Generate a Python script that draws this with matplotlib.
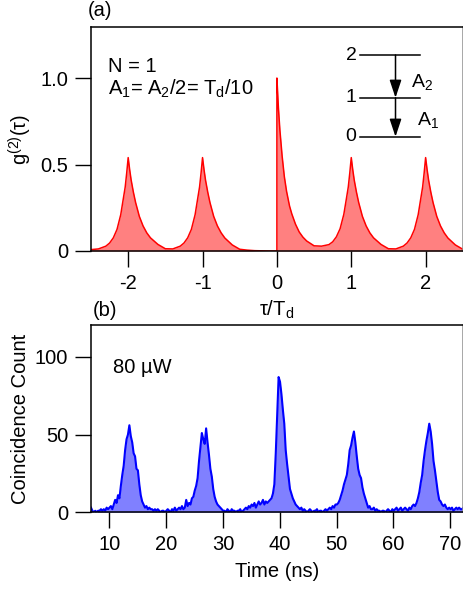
import matplotlib
matplotlib.use('Agg')
import matplotlib.pyplot as plt
import numpy as np

plt.rcParams['font.family'] = ['Liberation Sans', 'DejaVu Sans']
plt.rcParams['mathtext.fontset'] = 'custom'
plt.rcParams['mathtext.rm'] = 'Liberation Sans'
plt.rcParams['mathtext.it'] = 'Liberation Sans:italic'
plt.rcParams['mathtext.bf'] = 'Liberation Sans:bold'

# ---------------- data: panel (a) theoretical g2 ----------------
tau = [-2.5, -2.4, -2.3, -2.25, -2.2, -2.15, -2.1, -2.07, -2.04, -2.02, -2.0, -1.98, -1.96, -1.93, -1.9, -1.85, -1.8, -1.75, -1.7, -1.6, -1.5,
       -1.4, -1.3, -1.25, -1.2, -1.15, -1.1, -1.07, -1.04, -1.02, -1.0, -0.98, -0.96, -0.93, -0.9, -0.85, -0.8, -0.75, -0.7, -0.6, -0.5, -0.4, -0.3, -0.2, -0.1, 0.0,
       0.0, 0.02, 0.04, 0.07, 0.1, 0.13, 0.17, 0.2, 0.25, 0.3, 0.35, 0.4, 0.5,
       0.6, 0.7, 0.75, 0.8, 0.85, 0.9, 0.93, 0.96, 0.98, 1.0, 1.02, 1.04, 1.07, 1.1, 1.15, 1.2, 1.25, 1.3, 1.4, 1.5,
       1.6, 1.7, 1.75, 1.8, 1.85, 1.9, 1.93, 1.96, 1.98, 2.0, 2.02, 2.04, 2.07, 2.1, 2.15, 2.2, 2.25, 2.3, 2.4, 2.5]
g2 = [0.008, 0.012, 0.028, 0.046, 0.076, 0.125, 0.21, 0.29, 0.37, 0.45, 0.54, 0.47, 0.41, 0.34, 0.28, 0.20, 0.145, 0.105, 0.076, 0.038, 0.013,
      0.012, 0.028, 0.046, 0.076, 0.125, 0.21, 0.29, 0.37, 0.45, 0.54, 0.47, 0.41, 0.34, 0.28, 0.20, 0.145, 0.105, 0.075, 0.035, 0.01, 0.005, 0.002, 0.001, 0.0, 0.0,
      1.0, 0.83, 0.70, 0.55, 0.43, 0.345, 0.26, 0.215, 0.155, 0.11, 0.08, 0.058, 0.03,
      0.028, 0.037, 0.053, 0.082, 0.129, 0.212, 0.29, 0.37, 0.45, 0.54, 0.47, 0.41, 0.34, 0.28, 0.20, 0.145, 0.105, 0.076, 0.038, 0.013,
      0.012, 0.028, 0.046, 0.076, 0.125, 0.21, 0.29, 0.37, 0.45, 0.54, 0.47, 0.41, 0.34, 0.28, 0.20, 0.145, 0.105, 0.075, 0.035, 0.01]
xticks_a = [-2, -1, 0, 1, 2]
xticklabels_a = ['-2', '-1', '0', '1', '2']
yticks_a = [0, 0.5, 1.0]
yticklabels_a = ['0', '0.5', '1.0']

# ---------------- data: panel (b) measured histogram ----------------
time_start = 6.8
bin_width = 0.25
counts = [3, 1, 0, 1, 0, 1, 1, 2, 1, 2, 1, 3, 2,
          3, 4, 2, 5, 8, 6, 11, 9, 17, 24, 30, 40, 47, 50, 56, 49, 45, 38, 36, 28, 27, 18, 11, 7, 5, 3, 4, 2, 3, 2,
          2, 1, 2, 1, 2, 1, 0, 1, 1, 0, 1, 2, 1, 0, 2, 1, 3, 1, 2, 3, 2, 4, 2, 3,
          8, 4, 6, 5, 9, 10, 14, 17, 22, 33, 42, 51, 47, 44, 54, 45, 37, 28, 23, 15, 10, 7, 5, 4, 3,
          2, 1, 1, 0, 2, 1, 0, 2, 1, 1, 0, 1, 1, 2, 0, 1, 2, 3, 2, 4, 3, 5, 4, 6, 3, 5, 7, 5, 6, 8, 5, 7, 6, 7, 8,
          9, 12, 18, 38, 62, 87, 84, 76, 66, 57, 40, 31, 23, 15, 12, 9, 7, 5, 4, 3, 2,
          3, 1, 2, 1, 0, 1, 2, 1, 0, 1, 1, 2, 0, 1, 1, 0, 1, 2, 1, 2, 3, 2, 4, 3, 5,
          5, 6, 8, 11, 14, 18, 21, 24, 31, 40, 43, 48, 52, 45, 36, 28, 24, 22, 16, 12, 9, 6, 3, 4, 2,
          2, 3, 1, 2, 1, 1, 0, 1, 1, 0, 1, 2, 1, 0, 2, 1, 2, 3, 1, 2, 3, 1, 2, 3, 2, 1, 3, 2, 4, 5,
          4, 6, 9, 13, 19, 24, 33, 40, 46, 51, 57, 52, 44, 33, 27, 20, 13, 8, 7, 5, 4, 5, 3, 2, 3,
          2, 3, 1, 2, 3, 2, 3, 2, 2, 3]
time_ns = np.round(time_start + bin_width * np.arange(len(counts)), 3)
xticks_b = [10, 20, 30, 40, 50, 60, 70]
yticks_b = [0, 50, 100]

# ---------------- figure ----------------
W, H = 464, 594
FS = 14.5
fig = plt.figure(figsize=(W / 100, H / 100), dpi=100)
ax1 = fig.add_axes([91 / W, 1 - 251 / H, 371.8 / W, 224 / H])
ax2 = fig.add_axes([91 / W, 1 - 512.3 / H, 371.8 / W, 187.3 / H])

for ax in (ax1, ax2):
    for s in ax.spines.values():
        s.set_linewidth(1.1)
        s.set_color('black')
    ax.spines['right'].set_color('#909090')
    ax.tick_params(direction='out', length=11.5, width=1.0, pad=5,
                   labelsize=FS, top=False, right=False)

# panel (a)
ax1.fill_between(tau, 0, g2, color='#ff8080', lw=0)
ax1.plot(tau, g2, color='#ff0000', lw=1.1)
ax1.set_xlim(-2.5, 2.5)
ax1.set_ylim(0, 1.295)
ax1.set_xticks(xticks_a)
ax1.set_xticklabels(xticklabels_a)
ax1.set_yticks(yticks_a)
ax1.set_yticklabels(yticklabels_a)
ax1.set_xlabel('τ/T$_{\\mathregular{d}}$', fontsize=FS)
ax1.xaxis.set_label_coords(0.5, -0.212)
ax1.set_ylabel('g$^{\\mathregular{(2)}}$(τ)', fontsize=FS)
ax1.yaxis.set_label_coords(-0.152, 0.5)

ax1.text(0.046, 0.799, 'N = 1', transform=ax1.transAxes, fontsize=FS, va='baseline')
ax1.text(0.046, 0.696, 'A$_{\\mathregular{1}}$= A$_{\\mathregular{2}}$/2= T$_{\\mathregular{d}}$/10',
         transform=ax1.transAxes, fontsize=FS, va='baseline')

# level diagram
lev_y = {'2': 0.875, '1': 0.684, '0': 0.510}
for lab, yy in lev_y.items():
    ax1.plot([0.723, 0.884], [yy, yy], transform=ax1.transAxes, color='black', lw=1.1, clip_on=False)
    ax1.text(0.714, yy, lab, transform=ax1.transAxes, fontsize=14, ha='right', va='center')
arrow_x = 0.819
for y0, y1 in ((lev_y['2'], lev_y['1']), (lev_y['1'], lev_y['0'])):
    ax1.annotate('', xy=(arrow_x, y1), xytext=(arrow_x, y0),
                 xycoords='axes fraction', textcoords='axes fraction',
                 arrowprops=dict(arrowstyle='-|>,head_length=0.54,head_width=0.18',
                                 mutation_scale=20, color='black', lw=1.1,
                                 shrinkA=0, shrinkB=0))
ax1.text(0.860, 0.756, 'A$_{\\mathregular{2}}$', transform=ax1.transAxes, fontsize=14, va='center')
ax1.text(0.877, 0.585, 'A$_{\\mathregular{1}}$', transform=ax1.transAxes, fontsize=14, va='center')

# panel (b)
ax2.fill_between(time_ns, 0, counts, color='#8080ff', lw=0)
ax2.plot(time_ns, counts, color='#0000ff', lw=1.5)
ax2.set_xlim(6.8, 72.2)
ax2.set_ylim(0, 120.5)
ax2.set_xticks(xticks_b)
ax2.set_yticks(yticks_b)
ax2.set_xlabel('Time (ns)', fontsize=FS)
ax2.xaxis.set_label_coords(0.5, -0.265)
ax2.set_ylabel('Coincidence Count', fontsize=FS)
ax2.yaxis.set_label_coords(-0.165, 0.5)
ax2.text(0.059, 0.742, '80 µW', transform=ax2.transAxes, fontsize=FS, va='baseline')

fig.text(88 / W, 1 - 16 / H, '(a)', fontsize=FS, va='baseline')
fig.text(93 / W, 1 - 316 / H, '(b)', fontsize=FS, va='baseline')

fig.savefig('out.png', dpi=100)
